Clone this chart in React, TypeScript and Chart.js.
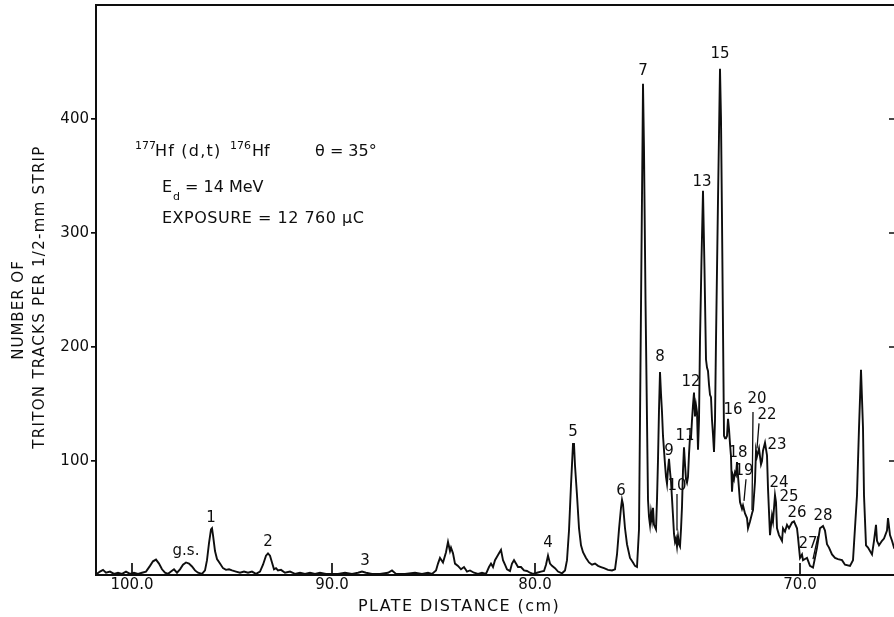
import { useEffect, useRef } from "react";
import { Chart, registerables } from "chart.js";

Chart.register(...registerables);

// Strip index along the plate (1/2-mm strips, counted from the left edge of the frame)
const stripIndex = [
  1, 4, 7, 10, 14, 18, 22, 26, 30, 34, 38, 42, 46, 50, 54, 57, 60, 63, 66, 69, 72, 75, 78, 81, 84, 87, 90, 93, 96, 99,
  102, 106, 109, 111, 113, 115, 116, 117, 119, 121, 124, 127, 130, 133, 136, 140, 144, 148, 152, 156, 160, 164, 167,
  170, 172, 174, 176, 178, 180, 182, 185, 189, 194, 199, 204, 209, 214, 219, 224, 230, 242, 249, 256, 262, 266, 270,
  276, 284, 292, 296, 300, 309, 319, 326, 332, 336, 340, 342, 344, 347, 350, 352, 354, 355, 357, 359, 362, 365, 368,
  371, 374, 378, 382, 386, 390, 393, 395, 397, 399, 401, 403, 405, 407, 409, 411, 414, 416, 418, 420, 422, 425, 428,
  431, 434, 437, 441, 445, 448, 450, 452, 454, 456, 459, 462, 466, 469, 471, 473, 475, 477, 478, 479, 481, 483, 485,
  487, 490, 493, 496, 499, 502, 505, 508, 512, 516, 519, 521, 523, 525, 526, 527, 529, 531, 534, 537, 539, 541, 543,
  544, 545.5, 546.5, 547, 548, 549.5, 551, 552, 553, 554, 555, 556, 557, 558, 560, 561, 562, 563, 564, 565, 566, 567,
  569, 570, 571, 572, 573, 574, 575, 576, 577, 578, 579, 580, 581, 582, 583, 584, 585, 586, 587, 588, 589, 590, 591,
  592, 593, 594, 595, 596, 597, 598, 599, 600, 601, 602, 603, 604, 605.5, 607, 608.5, 610, 611, 612, 613, 614, 615,
  616, 617, 618, 619, 620, 622, 624, 625, 626, 627, 628, 629, 630, 631, 632, 633, 634, 635, 636, 637, 638, 639, 640,
  641, 642, 644, 646, 647, 649, 651, 652, 654, 656, 657, 659, 660, 661, 663, 665, 666, 667, 669, 671, 672, 674, 676,
  677, 679, 680, 681, 683, 686, 687, 689, 691, 693, 696, 698, 701, 702, 704, 706, 707, 709, 711, 714, 717, 719, 721,
  724, 727, 729, 731, 733, 736, 739, 742, 746, 749, 754, 757, 761, 763, 765, 767, 768, 770, 772, 776, 778, 780, 781,
  783, 786, 788, 791, 792, 794, 796, 798, 802,
];

// Number of triton tracks per 1/2-mm strip
const tritonCounts = [
  1, 3, 4.5, 2, 3, 1, 2, 1, 3, 1, 2, 1, 2, 3, 8, 12, 13.5, 10, 5, 2, 1, 3, 5, 2, 5, 9, 11, 10, 7.5, 4,
  2, 1, 4, 13, 28, 40, 41, 35, 21, 14, 10, 6, 4.5, 5, 4, 3, 2, 3, 2, 3, 1, 3, 9,
  17, 19, 17, 11, 5, 6, 4, 4.5, 2, 3, 1, 2, 1, 2, 1, 2, 1, 1, 2, 1, 2, 3, 2,
  1, 1, 2, 4, 1, 1, 2, 1, 2, 1, 4, 10, 15, 11, 20, 29, 21, 24, 19, 10, 8, 5, 7,
  3, 4, 2, 1, 2, 1, 7, 10, 7, 13, 16, 19, 22, 13, 9, 5, 3.5, 10, 13, 10, 7, 7, 4,
  3.5, 2, 1, 2, 3, 3.5, 9, 17, 10, 8, 6, 3, 1.5, 4, 13, 39, 79, 115, 115, 96, 70, 41, 26,
  20, 15, 11, 9, 10, 8, 7, 6, 4.5, 4, 5, 18, 40, 59, 66, 62, 41, 27, 15, 11, 8, 7, 40,
  136, 285, 379, 431, 373, 241, 136, 66, 51, 44, 55, 48, 59, 44, 40, 66, 101, 145, 178, 159, 143, 122,
  97, 86, 80, 93, 102, 91, 82, 67, 52, 36, 29, 32, 25, 34, 27, 25, 40, 60, 92, 112, 97, 84, 81,
  86, 106, 121, 120, 136, 149, 160, 139, 149, 143, 110, 136, 206, 277, 337, 268, 189, 182, 179, 167, 158, 156,
  136, 123, 108, 136, 206, 329, 444, 400, 312, 216, 122, 120, 120, 122, 137, 128, 115, 104, 73, 87, 84, 90, 88,
  99, 87, 64, 58, 61, 54, 50, 41, 47, 54, 57, 82, 109, 104, 111, 97, 100, 109, 116, 105, 76, 35, 52,
  47, 70, 64, 41, 35, 30, 41, 38, 44, 41, 46, 47, 41, 33, 15, 18, 13, 14, 15, 8, 6.5, 15, 24,
  41, 43, 39, 27, 24, 18, 15, 14, 13, 9, 8, 13, 70, 129, 180, 129, 70, 26, 24, 18, 30, 44, 30,
  26, 30, 32, 39, 50, 35, 30, 24, 26,
];

// Plate-distance tick marks (strip position and label)
const xTickStrips = [36, 236, 439, 704];
const xTickLabels = ["100.0", "90.0", "80.0", "70.0"];
const yTickValues = [100, 200, 300, 400];

// Peak labels
const peakNames = ["g.s.", "1", "2", "3", "4", "5", "6", "7", "8", "9", "10", "11", "12", "13", "15", "16", "18", "19", "20", "22", "23", "24", "25", "26", "27", "28"];
const peakStrips = [90, 115, 172, 269, 452, 477, 525, 547, 564, 573, 581, 589, 595, 606, 624, 637, 642, 648, 661, 671, 681, 683, 693, 701, 712, 727];
const peakCounts = [21, 50, 29, 12, 28, 125, 74, 442, 191, 109, 78, 122, 169, 345, 457, 145, 107, 91, 154, 140, 114, 81, 68, 54, 27, 52];

// Leader lines from labels to the trace: [fromStrip, fromCount, toStrip, toCount]
const leaderLines = [
  [581, 71, 581, 39],
  [650, 84, 648, 65],
  [657, 143, 656, 57],
  [663, 133, 661, 111],
  [722, 34, 717, 14],
];

const INK = "#0e0e0e";
const FONT = '"DejaVu Sans"';

const drawSpaced = (ctx: CanvasRenderingContext2D, text: string, x: number, y: number, spacing: number) => {
  (ctx as any).letterSpacing = `${spacing}px`;
  ctx.fillText(text, x, y);
  (ctx as any).letterSpacing = "0px";
};

const decorPlugin = {
  id: "plateDecor",
  afterDraw(chart: any) {
    const { ctx, chartArea: a, scales } = chart;
    const xs = scales.x;
    const ys = scales.y;
    ctx.save();
    ctx.strokeStyle = INK;
    ctx.fillStyle = INK;

    // frame
    ctx.lineWidth = 2;
    ctx.strokeRect(a.left, a.top, a.right - a.left, a.bottom - a.top);

    // inward tick marks
    ctx.lineWidth = 1.7;
    ctx.beginPath();
    xTickStrips.forEach((s) => {
      const px = xs.getPixelForValue(s);
      ctx.moveTo(px, a.bottom);
      ctx.lineTo(px, a.bottom - 12);
    });
    yTickValues.forEach((v) => {
      const py = ys.getPixelForValue(v);
      ctx.moveTo(a.right, py);
      ctx.lineTo(a.right - 9, py);
    });
    ctx.stroke();

    // leader lines
    ctx.lineWidth = 1.3;
    ctx.beginPath();
    leaderLines.forEach(([s1, c1, s2, c2]) => {
      ctx.moveTo(xs.getPixelForValue(s1), ys.getPixelForValue(c1));
      ctx.lineTo(xs.getPixelForValue(s2), ys.getPixelForValue(c2));
    });
    ctx.stroke();

    // peak labels
    ctx.font = `15px ${FONT}`;
    ctx.textAlign = "center";
    ctx.textBaseline = "middle";
    peakNames.forEach((name, i) => {
      ctx.fillText(name, xs.getPixelForValue(peakStrips[i]), ys.getPixelForValue(peakCounts[i]));
    });

    // reaction information block
    ctx.textAlign = "left";
    ctx.font = `11px ${FONT}`;
    ctx.fillText("177", a.left + 39, 146);
    ctx.fillText("176", a.left + 134, 146);
    ctx.font = `16px ${FONT}`;
    drawSpaced(ctx, "Hf (d,t)", a.left + 59, 152, 1.2);
    ctx.fillText("Hf", a.left + 156, 152);
    ctx.fillText("\u03B8 = 35\u00B0", a.left + 219, 152);
    ctx.fillText("E", a.left + 66, 188);
    ctx.font = `11px ${FONT}`;
    ctx.fillText("d", a.left + 77, 197);
    ctx.font = `16px ${FONT}`;
    ctx.fillText("= 14 MeV", a.left + 89, 188);
    drawSpaced(ctx, "EXPOSURE = 12 760 \u03BCC", a.left + 66, 219, 0.5);

    // axis titles
    ctx.textAlign = "center";
    ctx.font = `15px ${FONT}`;
    ctx.save();
    ctx.translate(19, 310);
    ctx.rotate(-Math.PI / 2);
    drawSpaced(ctx, "NUMBER OF", 0, 0, 1);
    ctx.restore();
    ctx.save();
    ctx.translate(40, 297);
    ctx.rotate(-Math.PI / 2);
    drawSpaced(ctx, "TRITON TRACKS PER 1/2-mm STRIP", 0, 0, 1.3);
    ctx.restore();
    ctx.font = `16px ${FONT}`;
    drawSpaced(ctx, "PLATE DISTANCE (cm)", 459, 607, 1.4);

    ctx.restore();
  },
};

export default function App() {
  const canvasRef = useRef<HTMLCanvasElement | null>(null);

  useEffect(() => {
    const canvas = canvasRef.current;
    if (!canvas) return;
    const points = stripIndex.map((s, i) => ({ x: s, y: tritonCounts[i] }));
    const chart = new Chart(canvas, {
      type: "line",
      data: {
        datasets: [
          {
            data: points,
            borderColor: INK,
            borderWidth: 1.9,
            borderJoinStyle: "miter",
            pointRadius: 0,
            tension: 0,
            fill: false,
          },
        ],
      },
      options: {
        responsive: false,
        animation: false,
        devicePixelRatio: 1,
        layout: { padding: { top: 5, right: 2, bottom: 0, left: 0 } },
        plugins: { legend: { display: false }, tooltip: { enabled: false }, title: { display: false } },
        scales: {
          x: {
            type: "linear",
            min: 0,
            max: 802,
            border: { display: false },
            grid: { display: false, drawTicks: false, drawOnChartArea: false },
            afterBuildTicks: (scale: any) => {
              scale.ticks = xTickStrips.map((v) => ({ value: v }));
            },
            afterFit: (scale: any) => {
              scale.height = 42;
              scale.paddingLeft = 0;
              scale.paddingRight = 0;
            },
            ticks: {
              autoSkip: false,
              maxRotation: 0,
              padding: 1,
              color: INK,
              font: { family: "DejaVu Sans", size: 15 },
              callback: (_v: any, i: number) => xTickLabels[i],
            },
          },
          y: {
            type: "linear",
            min: 0,
            max: 500,
            border: { display: false },
            grid: { drawOnChartArea: false, drawTicks: true, tickLength: 5, color: INK, lineWidth: 1.7 },
            afterBuildTicks: (scale: any) => {
              scale.ticks = yTickValues.map((v) => ({ value: v }));
            },
            afterFit: (scale: any) => {
              scale.width = 96;
              scale.paddingTop = 0;
              scale.paddingBottom = 0;
            },
            ticks: {
              padding: 2,
              color: INK,
              font: { family: "DejaVu Sans", size: 15 },
            },
          },
        },
      },
      plugins: [decorPlugin],
    });
    return () => chart.destroy();
  }, []);

  return (
    <div
      style={{
        position: "fixed",
        left: 0,
        top: 0,
        width: 894,
        height: 617,
        overflow: "hidden",
        background: "#ffffff",
      }}
    >
      <canvas ref={canvasRef} width={900} height={617} style={{ display: "block", width: 900, height: 617 }} />
    </div>
  );
}
